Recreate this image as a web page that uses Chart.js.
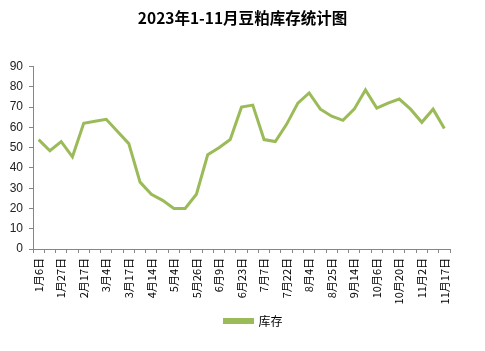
<!DOCTYPE html>
<html>
<head>
<meta charset="utf-8">
<script src="https://cdn.jsdelivr.net/npm/chart.js@4"></script>
<style>
  html, body { margin: 0; padding: 0; background: #fff; }
  #wrap { width: 485px; height: 351px; }
</style>
</head>
<body>
<div id="wrap"><canvas id="chart" width="485" height="351"></canvas></div>
<script>
// dates of each reading (only every other one is labelled on the axis)
const dates = [
  '1月6日', '1月13日', '1月27日', '2月3日', '2月17日', '2月24日', '3月4日', '3月10日',
  '3月17日', '3月31日', '4月14日', '4月21日', '5月4日', '5月12日', '5月26日', '6月2日',
  '6月9日', '6月16日', '6月23日', '6月30日', '7月7日', '7月14日', '7月22日', '7月28日',
  '8月4日', '8月18日', '8月25日', '9月1日', '9月14日', '9月22日', '10月6日', '10月13日',
  '10月20日', '10月27日', '11月2日', '11月10日', '11月17日'
];

// 库存 (万吨)
const stock = [
  54, 48.5, 53, 45.5, 62, 63, 64, 58,
  52, 33, 27, 24, 20, 20, 27, 46.5,
  50, 54, 70, 71, 54, 53, 61.5, 72,
  77, 69, 65.5, 63.5, 69, 78.5, 69.5, 72,
  74, 69, 62.5, 69, 59.5
];

const yMin = 0;
const yMax = 90;
const yStep = 10;

const green = '#9BBB59';
const axisGray = '#868686';

// the legend in the reference sits a little right of centre
const legendShift = {
  id: 'legendShift',
  afterLayout(chart) {
    chart.legend.left += 11;
    chart.legend.right += 11;
  }
};

const ctx = document.getElementById('chart').getContext('2d');

new Chart(ctx, {
  type: 'line',
  data: {
    labels: dates,
    datasets: [{
      label: '库存',
      data: stock,
      borderColor: green,
      backgroundColor: green,
      borderWidth: 3,
      pointRadius: 0,
      tension: 0,
      fill: false,
      yAxisID: 'y'
    }]
  },
  options: {
    responsive: false,
    animation: false,
    layout: { padding: { left: 0, right: 0, top: 0, bottom: 14 } },
    plugins: {
      title: {
        display: true,
        text: '2023年1-11月豆粕库存统计图',
        color: '#000',
        font: { family: '"Noto Sans CJK SC"', size: 15.5, weight: 'bold' },
        padding: { top: 9, bottom: 39 }
      },
      legend: {
        position: 'bottom',
        labels: {
          boxWidth: 28,
          boxHeight: 3,
          color: '#000',
          font: { family: '"Noto Sans CJK SC"', size: 12 },
          padding: 6
        }
      },
      tooltip: { enabled: false }
    },
    scales: {
      x: {
        offset: true,
        grid: {
          offset: true,
          drawOnChartArea: false,
          drawTicks: true,
          tickLength: 4,
          color: axisGray
        },
        border: { color: axisGray, width: 1 },
        ticks: {
          autoSkip: false,
          maxRotation: 90,
          minRotation: 90,
          padding: 5,
          color: '#000',
          font: { family: '"Noto Sans CJK SC"', size: 11 },
          callback: function(value, index) {
            return index % 2 === 0 ? this.getLabelForValue(value) : '';
          }
        },
        afterFit: scale => { scale.height = 60; }
      },
      y: {
        min: yMin,
        max: yMax,
        grid: {
          drawOnChartArea: false,
          drawTicks: true,
          tickLength: 4,
          color: axisGray
        },
        border: { color: axisGray, width: 1 },
        ticks: {
          stepSize: yStep,
          padding: 6,
          color: '#222',
          font: { family: '"Liberation Sans", Arial', size: 12 }
        },
        afterFit: scale => { scale.width = 33; }
      },
      // empty right-hand strip so the plot ends where the reference does
      spacer: {
        type: 'linear',
        position: 'right',
        grid: { display: false },
        border: { display: false },
        ticks: { display: false },
        afterFit: scale => { scale.width = 35; }
      }
    }
  },
  plugins: [legendShift]
});
</script>
</body>
</html>
